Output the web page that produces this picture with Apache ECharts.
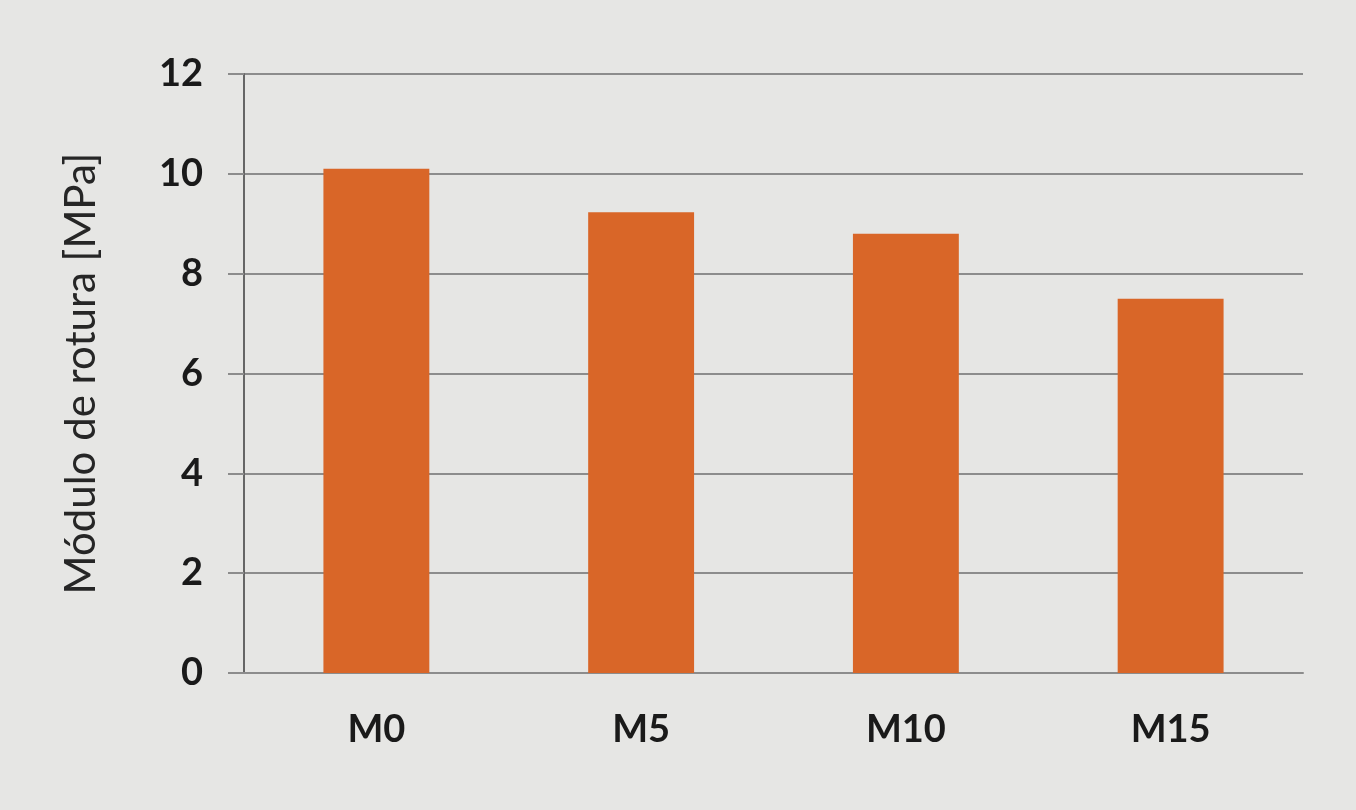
<!DOCTYPE html>
<html>
<head>
<meta charset="utf-8">
<script src="https://cdn.jsdelivr.net/npm/echarts@6/dist/echarts.min.js"></script>
<style>
html,body{margin:0;padding:0;background:#e6e6e4;}
#chart{width:1356px;height:810px;}
</style>
</head>
<body>
<div id="chart"></div>
<script>
const categories = ['M0', 'M5', 'M10', 'M15'];
const values = [10.1, 9.23, 8.8, 7.5];
const yTicks = { min: 0, max: 12, interval: 2 };
const yTitle = 'Módulo de rotura [MPa]';

const chart = echarts.init(document.getElementById('chart'));
chart.setOption({
  backgroundColor: '#e6e6e4',
  animation: false,
  grid: { left: 244, right: 53, top: 74, bottom: 137 },
  xAxis: {
    type: 'category',
    data: categories,
    axisLine: { show: true, lineStyle: { color: '#8c8c8c', width: 2 } },
    axisTick: { show: false },
    axisLabel: { color: '#1a1a1a', fontFamily: 'Lato', fontWeight: 'bold', fontSize: 38, margin: 38 }
  },
  yAxis: {
    type: 'value',
    min: yTicks.min, max: yTicks.max, interval: yTicks.interval,
    name: yTitle,
    nameLocation: 'middle',
    nameGap: 142,
    nameTextStyle: { color: '#262626', fontFamily: 'Lato', fontSize: 42 },
    axisLine: { show: true, lineStyle: { color: '#666666', width: 2 } },
    axisTick: { show: true, length: 16, lineStyle: { color: '#8c8c8c', width: 2 } },
    splitLine: { show: true, lineStyle: { color: '#8c8c8c', width: 2 } },
    axisLabel: { color: '#1a1a1a', fontFamily: 'Lato', fontWeight: 'bold', fontSize: 38, margin: 41 }
  },
  series: [{
    type: 'bar',
    data: values,
    barWidth: '40%',
    itemStyle: { color: '#d96628' }
  }]
});
</script>
</body>
</html>
